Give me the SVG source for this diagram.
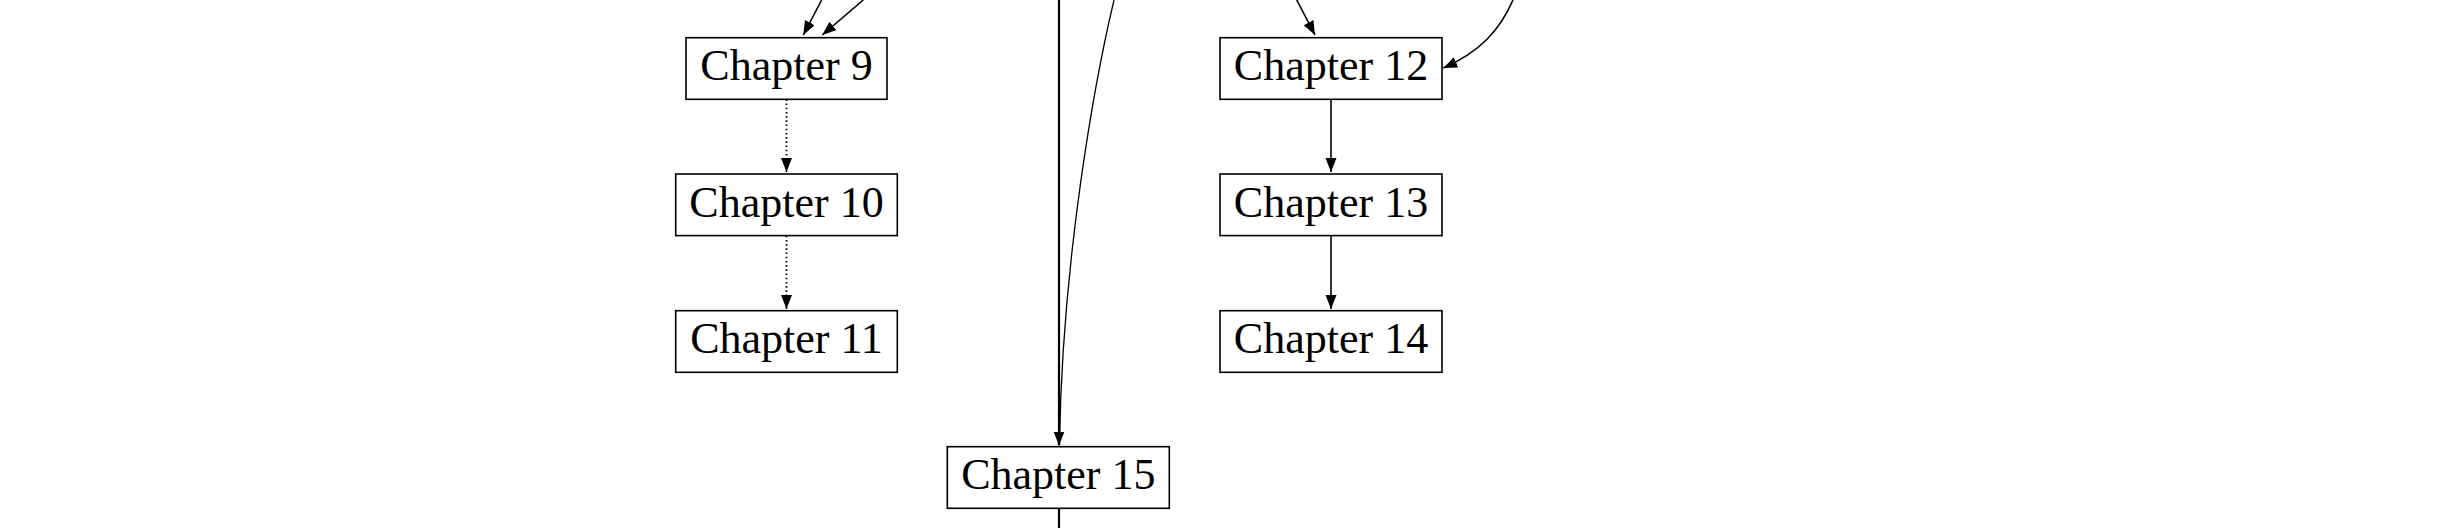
<svg xmlns="http://www.w3.org/2000/svg" width="2448" height="528" viewBox="0 0 2448 528">
  <style>
    .box { fill: #ffffff; stroke: #000000; stroke-width: 1.6; }
    .lbl { font-family: "Liberation Serif", "DejaVu Serif", serif; font-size: 44px; fill: #000000; text-anchor: middle; }
    .edge { fill: none; stroke: #000000; stroke-width: 1.6; }
    .thick { stroke-width: 2.2; }
    .thin { stroke-width: 1.3; }
    .dot { stroke-width: 1.8; stroke-dasharray: 1.6 2.6; }
  </style>
  <defs>
    <marker id="arr" markerUnits="userSpaceOnUse" markerWidth="15" markerHeight="12" refX="14" refY="5.5" orient="auto">
      <path d="M0,0 L14,5.5 L0,11 Z" fill="#000000"/>
    </marker>
  </defs>
  <rect width="2448" height="528" fill="#ffffff"/>

  <g id="connectors">
    <path class="edge" d="M821.7,0 L803.3,35" marker-end="url(#arr)"/>
    <path class="edge" d="M863.3,0 L822.3,35" marker-end="url(#arr)"/>
    <path class="edge dot" d="M786.5,99.3 L786.5,172" marker-end="url(#arr)"/>
    <path class="edge dot" d="M786.5,235.7 L786.5,309" marker-end="url(#arr)"/>
    <path class="edge thick" d="M1059,0 L1059,445.5" marker-end="url(#arr)"/>
    <path class="edge thin" d="M1114,0 C1095,80 1062,260 1059.5,445"/>
    <path class="edge" d="M1296.7,0 L1315,35" marker-end="url(#arr)"/>
    <path class="edge" d="M1513,0 C1500,30 1480,52 1443.3,68" marker-end="url(#arr)"/>
    <path class="edge" d="M1331,99.3 L1331,172" marker-end="url(#arr)"/>
    <path class="edge" d="M1331,235.7 L1331,309" marker-end="url(#arr)"/>
    <path class="edge thick" d="M1059,508.3 L1059,528"/>
  </g>

  <g id="ch9">
    <rect class="box" x="686" y="37.7" width="201" height="61.6"/>
    <text class="lbl" x="786.5" y="80">Chapter 9</text>
  </g>
  <g id="ch10">
    <rect class="box" x="675.7" y="174" width="221.6" height="61.6"/>
    <text class="lbl" x="786.5" y="216.5">Chapter 10</text>
  </g>
  <g id="ch11">
    <rect class="box" x="675.7" y="310.7" width="221.6" height="61.6"/>
    <text class="lbl" x="786.5" y="353">Chapter 11</text>
  </g>
  <g id="ch12">
    <rect class="box" x="1220" y="37.7" width="222" height="61.6"/>
    <text class="lbl" x="1331" y="80">Chapter 12</text>
  </g>
  <g id="ch13">
    <rect class="box" x="1220" y="174" width="222" height="61.6"/>
    <text class="lbl" x="1331" y="216.5">Chapter 13</text>
  </g>
  <g id="ch14">
    <rect class="box" x="1220" y="310.7" width="222" height="61.6"/>
    <text class="lbl" x="1331" y="353">Chapter 14</text>
  </g>
  <g id="ch15">
    <rect class="box" x="947.3" y="446.7" width="222" height="61.6"/>
    <text class="lbl" x="1058.3" y="489">Chapter 15</text>
  </g>
</svg>
